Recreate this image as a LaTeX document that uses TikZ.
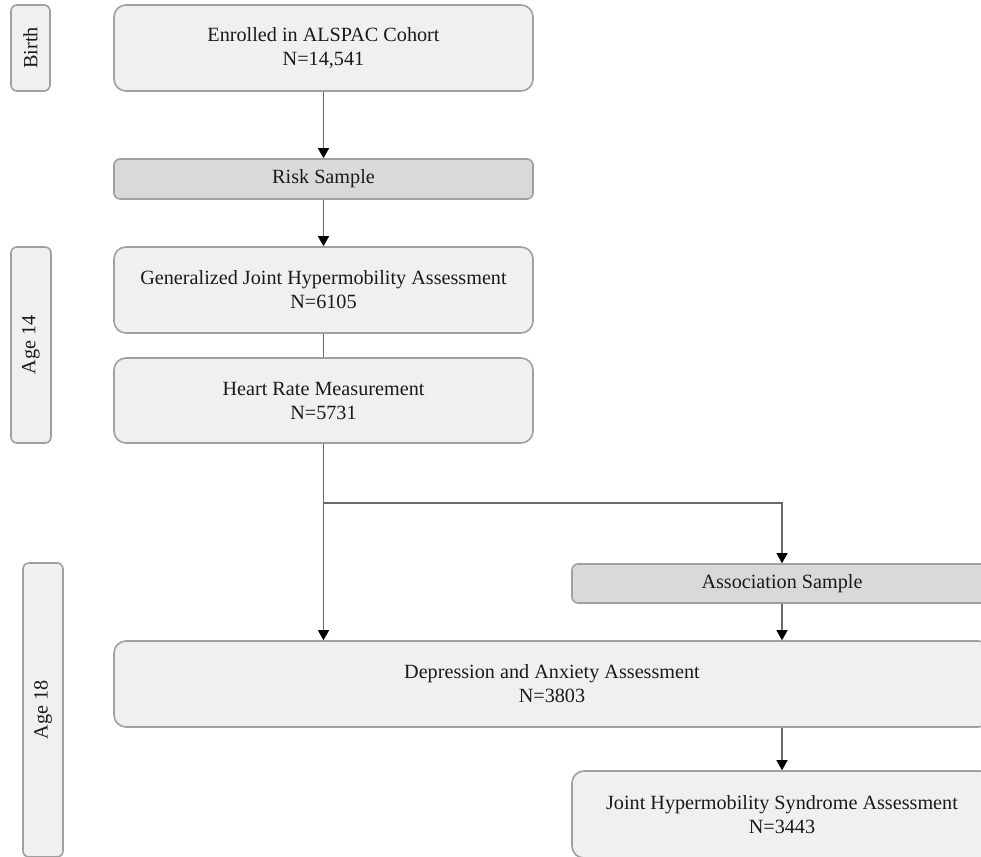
\documentclass[tikz,border=0pt]{standalone}
\usepackage{fontspec}
\setmainfont{Liberation Serif}
\usepackage{xcolor}
\usetikzlibrary{arrows.meta}

\definecolor{boxfill}{HTML}{F0F0F0}
\definecolor{samplefill}{HTML}{D9D9D9}
\definecolor{boxline}{HTML}{A0A0A0}
\definecolor{linecol}{HTML}{6A6A6A}
\definecolor{textcol}{HTML}{1A1A1A}

\begin{document}
\begin{tikzpicture}[x=1pt,y=-1pt,
	box/.style={draw=boxline, fill=boxfill, line width=1.6pt, rounded corners=12pt, align=center, inner sep=0pt, text=textcol, font=\fontsize{20.2}{24}\selectfont},
	samplebox/.style={box, fill=samplefill, rounded corners=6pt},
	agebox/.style={box, rounded corners=6pt, rotate=90},
	link/.style={draw=linecol, line width=1.2pt},
	arr/.style={link, -{Triangle[length=10pt,width=11pt,color=black]}}]
	\useasboundingbox (0,0) rectangle (981,856);
	\clip (0,0) rectangle (981,856);

	% time line on the left
	\node[agebox, minimum width=86pt, minimum height=39pt] (birth) at (30.5,48) {Birth};
	\node[agebox, minimum width=196pt, minimum height=40pt] (age14) at (31,345) {Age 14};
	\node[agebox, minimum width=294pt, minimum height=40pt] (age18) at (43,710) {Age 18};

	% flow
	\node[box, minimum width=419pt, minimum height=86pt] (enrol) at (323.5,48) {Enrolled in ALSPAC Cohort\\N=14,541};
	\node[samplebox, minimum width=419pt, minimum height=40pt] (risk) at (323.5,179) {Risk Sample};
	\node[box, minimum width=419pt, minimum height=86pt] (gjha) at (323.5,290) {Generalized Joint Hypermobility Assessment\\N=6105};
	\node[box, minimum width=419pt, minimum height=85pt] (hrm) at (323.5,400.5) {Heart Rate Measurement\\N=5731};
	\node[samplebox, minimum width=420pt, minimum height=39pt] (assoc) at (782,583.5) {Association Sample};
	\node[box, minimum width=876pt, minimum height=86pt] (dep) at (552,684) {Depression and Anxiety Assessment\\N=3803};
	\node[box, minimum width=420pt, minimum height=87pt] (jhsa) at (782,814.5) {Joint Hypermobility Syndrome Assessment\\N=3443};
	\coordinate (split) at (hrm.south |- 0,503);

	\draw[arr] (enrol) -- (risk);
	\draw[arr] (risk) -- (gjha);
	\draw[link] (gjha) -- (hrm);
	\draw[arr] (hrm.south) -- (dep.north -| hrm.south);
	\draw[arr] (split) -| (assoc.north);
	\draw[arr] (assoc) -- (dep.north -| assoc.north);
	\draw[arr] (dep.south -| jhsa.north) -- (jhsa);
\end{tikzpicture}
\end{document}
